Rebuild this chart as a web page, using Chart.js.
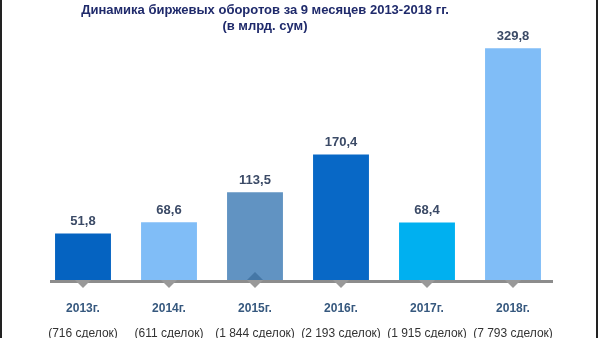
<!DOCTYPE html>
<html>
<head>
<meta charset="utf-8">
<script src="https://cdn.jsdelivr.net/npm/chart.js@4/dist/chart.umd.min.js"></script>
<style>
  html, body { margin: 0; padding: 0; background: #fff; }
  .wrap { position: relative; width: 600px; height: 338px; overflow: hidden; }
  .frame { position: absolute; left: 0; top: 0; width: 594px; height: 338px;
           border-left: 2px solid #222; border-right: 2px solid #222; pointer-events: none; }
  .title { position: absolute; left: 0; top: 2px; width: 530px; text-align: center;
           font: bold 13px "Liberation Sans", Arial, sans-serif; line-height: 16px; color: #1f2a6b; }
  canvas { position: absolute; left: 0; top: 0; }
</style>
</head>
<body>
<div class="wrap">
  <canvas id="myChart" width="600" height="338"></canvas>
  <div class="title">Динамика биржевых оборотов за 9 месяцев 2013-2018 гг.<br>(в млрд. сум)</div>
  <div class="frame"></div>
</div>
<script>
const years = ['2013г.', '2014г.', '2015г.', '2016г.', '2017г.', '2018г.'];
const deals = ['(716 сделок)', '(611 сделок)', '(1 844 сделок)', '(2 193 сделок)', '(1 915 сделок)', '(7 793 сделок)'];
const turnover = [51.8, 68.6, 113.5, 170.4, 68.4, 329.8];
const barColors = ['#0563c1', '#80bdf7', 'rgba(36,105,170,0.72)', '#0868c6', '#00b0f0', '#80bdf7'];

const axisBase = -18;

// grey axis line with diamond markers under each bar
const axisDeco = {
    id: 'axisDeco',
    beforeDatasetsDraw(chart) {
        const c = chart.ctx, a = chart.chartArea, x = chart.scales.x;
        c.save();
        c.fillStyle = '#8c8c8c';
        c.fillRect(a.left + 10, a.bottom, a.right - a.left - 13, 3);
        c.fillStyle = '#999999';
        years.forEach((y, i) => {
            const px = x.getPixelForValue(i);
            c.beginPath();
            c.moveTo(px, a.bottom - 8);
            c.lineTo(px + 8, a.bottom);
            c.lineTo(px, a.bottom + 8);
            c.lineTo(px - 8, a.bottom);
            c.closePath();
            c.fill();
        });
        c.restore();
    },
    afterDatasetsDraw(chart) {
        const c = chart.ctx;
        c.save();
        c.font = 'bold 13px "Liberation Sans", Arial, sans-serif';
        c.fillStyle = '#3b4a66';
        c.textAlign = 'center';
        c.textBaseline = 'middle';
        chart.getDatasetMeta(0).data.forEach((bar, i) => {
            c.fillText(turnover[i].toFixed(1).replace('.', ','), bar.x, bar.y - 12);
        });
        c.restore();
    }
};

const ctx = document.getElementById('myChart').getContext('2d');
const myChart = new Chart(ctx, {
    type: 'bar',
    data: {
        labels: years,
        datasets: [{
            data: turnover,
            backgroundColor: barColors,
            base: axisBase,
            barPercentage: 0.65,
            categoryPercentage: 1.0
        }]
    },
    options: {
        responsive: false,
        animation: false,
        layout: { padding: { left: 40, right: 44, top: 38, bottom: 0 } },
        plugins: { legend: { display: false }, tooltip: { enabled: false } },
        scales: {
            y: { display: false, min: axisBase, max: 345 },
            x: {
                grid: { display: false, drawTicks: false },
                border: { display: false },
                ticks: { color: '#36587e', font: { family: '"Liberation Sans", Arial, sans-serif', size: 12, weight: 'bold' }, padding: 21, maxRotation: 0 },
                afterFit(s) { s.height = 38; }
            },
            x2: {
                type: 'category',
                labels: deals,
                position: 'bottom',
                offset: true,
                grid: { display: false, drawTicks: false },
                border: { display: false },
                ticks: { color: '#333333', font: { family: '"Liberation Sans", Arial, sans-serif', size: 12 }, padding: 8, maxRotation: 0, autoSkip: false },
                afterFit(s) { s.height = 20; }
            }
        }
    },
    plugins: [axisDeco]
});
</script>
</body>
</html>
